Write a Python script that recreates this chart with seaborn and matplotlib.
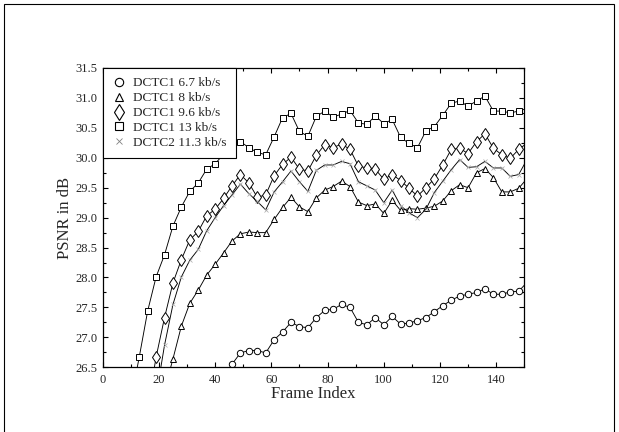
import numpy as np
import pandas as pd
import matplotlib
matplotlib.use("Agg")
import matplotlib.pyplot as plt
from matplotlib.lines import Line2D
from matplotlib.patches import Rectangle
import seaborn as sns

# frame indices (markers every 3 frames, last point is the right edge)
frames_13 = list(range(10, 149, 3)) + [150]
frames_96 = list(range(16, 149, 3)) + [150]
frames_113 = list(range(19, 149, 3)) + [150]
frames_8 = list(range(22, 149, 3)) + [150]
frames_67 = list(range(43, 149, 3)) + [150]

# PSNR values
psnr_13 = [25.94, 26.67, 27.44, 28.01, 28.38, 28.86, 29.18, 29.44, 29.58, 29.81,
           29.90, 30.06, 30.20, 30.27, 30.17, 30.09, 30.05, 30.35, 30.67, 30.74,
           30.44, 30.36, 30.69, 30.78, 30.68, 30.73, 30.79, 30.58, 30.56, 30.70,
           30.57, 30.64, 30.34, 30.24, 30.17, 30.45, 30.52, 30.71, 30.91, 30.95,
           30.86, 30.95, 31.03, 30.78, 30.78, 30.75, 30.78, 30.81]
psnr_96 = [25.82, 26.67, 27.33, 27.91, 28.30, 28.63, 28.77, 29.03, 29.14, 29.32,
           29.53, 29.72, 29.58, 29.34, 29.38, 29.70, 29.89, 30.01, 29.81, 29.78,
           30.04, 30.22, 30.17, 30.23, 30.14, 29.86, 29.83, 29.81, 29.64, 29.72,
           29.62, 29.49, 29.36, 29.50, 29.65, 29.88, 30.14, 30.16, 30.07, 30.27,
           30.40, 30.16, 30.05, 29.99, 30.14, 30.21]
psnr_113 = [26.02, 26.87, 27.55, 28.01, 28.29, 28.47, 28.78, 29.00, 29.20, 29.38,
            29.56, 29.40, 29.27, 29.13, 29.43, 29.60, 29.78, 29.60, 29.44, 29.79,
            29.88, 29.88, 29.94, 29.90, 29.60, 29.53, 29.46, 29.25, 29.46, 29.20,
            29.08, 29.00, 29.14, 29.42, 29.61, 29.80, 29.97, 29.84, 29.85, 29.94,
            29.83, 29.83, 29.69, 29.72, 29.89]
psnr_8 = [26.12, 26.64, 27.19, 27.57, 27.79, 28.04, 28.22, 28.41, 28.61, 28.73,
          28.76, 28.75, 28.75, 28.97, 29.17, 29.34, 29.18, 29.10, 29.33, 29.46,
          29.52, 29.61, 29.52, 29.26, 29.20, 29.23, 29.07, 29.29, 29.12, 29.15,
          29.14, 29.16, 29.19, 29.28, 29.45, 29.55, 29.50, 29.75, 29.82, 29.67,
          29.43, 29.43, 29.49, 29.60]
psnr_67 = [26.33, 26.55, 26.74, 26.78, 26.78, 26.74, 26.96, 27.09, 27.25, 27.18,
           27.16, 27.33, 27.45, 27.47, 27.55, 27.50, 27.25, 27.21, 27.33, 27.21,
           27.35, 27.22, 27.24, 27.28, 27.33, 27.43, 27.53, 27.62, 27.69, 27.72,
           27.75, 27.81, 27.72, 27.72, 27.76, 27.77, 27.87]

labels = ["DCTC1 6.7 kb/s", "DCTC1 8 kb/s", "DCTC1 9.6 kb/s",
          "DCTC1 13 kb/s", "DCTC2 11.3 kb/s"]

sns.set_style("ticks")
plt.rcParams['font.family'] = ['Liberation Serif', 'DejaVu Serif']

fig = plt.figure(figsize=(6.19, 4.32), dpi=100)
ax = fig.add_axes([0.1659, 0.1498, 0.6811, 0.6928])

# outer frame round the whole figure
fig.patches.append(Rectangle((4 / 619, -0.05), 610 / 619, 1.05 - 3.5 / 432,
                             transform=fig.transFigure, fill=False,
                             edgecolor="black", linewidth=0.8, clip_on=False))

series = [
    (frames_67, psnr_67, "o", 4.6),
    (frames_8, psnr_8, "^", 5.0),
    (frames_96, psnr_96, "d", 6.2),
    (frames_13, psnr_13, "s", 4.8),
]
for fr, ps, mk, ms in series:
    sns.lineplot(x=fr, y=ps, ax=ax, color="black", linewidth=0.65, marker=mk,
                 markersize=ms, markerfacecolor="white", markeredgecolor="black",
                 markeredgewidth=0.7, markevery=slice(0, len(fr) - 1),
                 sort=False, estimator=None)

sns.lineplot(x=frames_113, y=psnr_113, ax=ax, color="black", linewidth=0.65,
             marker="x", markersize=2.5, markeredgecolor="#a8a8a8",
             markeredgewidth=0.5, markevery=slice(0, len(frames_113) - 1),
             sort=False, estimator=None)

ax.set_xlim(0, 150)
ax.set_ylim(26.5, 31.5)
ax.set_xticks(np.arange(0, 141, 20))
ax.set_xticks(np.arange(0, 151, 10), minor=True)
ax.set_yticks(np.arange(26.5, 31.51, 0.5))
ax.set_yticks(np.arange(26.5, 31.51, 0.25), minor=True)
ax.set_yticklabels([f"{v:.1f}" for v in np.arange(26.5, 31.51, 0.5)])
ax.tick_params(which="both", direction="in", top=True, right=True,
               labelsize=9, color="black", width=0.8)
ax.tick_params(which="major", length=3.5)
ax.tick_params(which="minor", length=2.5)
ax.tick_params(axis="x", which="major", pad=5)
for sp in ax.spines.values():
    sp.set_linewidth(0.9)
    sp.set_color("black")

ax.set_xlabel("Frame Index", fontsize=12, labelpad=0)
ax.set_ylabel("PSNR in dB", fontsize=12, labelpad=2)

handles = [
    Line2D([], [], linestyle="none", marker="o", markersize=6,
           markerfacecolor="white", markeredgecolor="black", markeredgewidth=0.8),
    Line2D([], [], linestyle="none", marker="^", markersize=6,
           markerfacecolor="white", markeredgecolor="black", markeredgewidth=0.8),
    Line2D([], [], linestyle="none", marker="d", markersize=8,
           markerfacecolor="white", markeredgecolor="black", markeredgewidth=0.8),
    Line2D([], [], linestyle="none", marker="s", markersize=6,
           markerfacecolor="white", markeredgecolor="black", markeredgewidth=0.8),
    Line2D([], [], linestyle="none", marker="x", markersize=4.5,
           markeredgecolor="#808080", markeredgewidth=0.6),
]
leg = ax.legend(handles, labels, loc="upper left", borderaxespad=0,
                fontsize=9.5, frameon=True, fancybox=False, handlelength=1.0,
                handletextpad=0.6, labelspacing=0.2, borderpad=0.7)
leg.get_frame().set_edgecolor("black")
leg.get_frame().set_linewidth(0.8)
leg.get_frame().set_alpha(1)

fig.savefig("out.png", dpi=100)
